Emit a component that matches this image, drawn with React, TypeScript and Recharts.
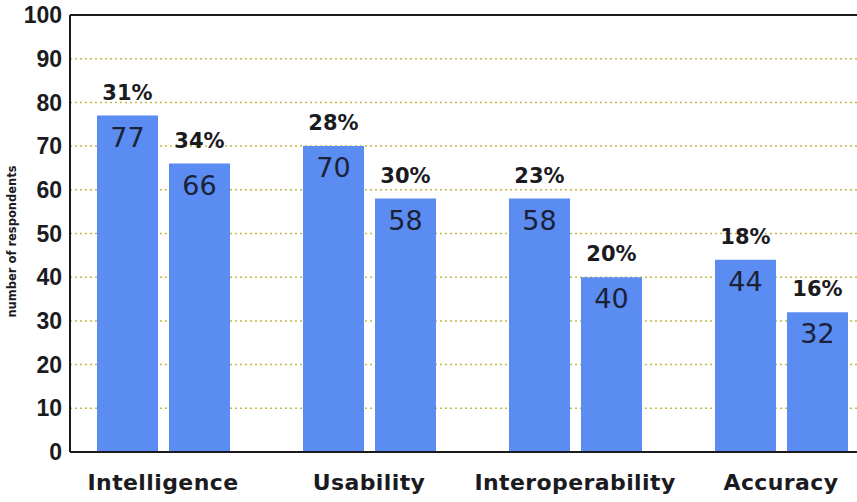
import React from "react";
import {
  BarChart,
  Bar,
  XAxis,
  YAxis,
  CartesianGrid,
  LabelList,
  ReferenceLine,
} from "recharts";

const categories = ["Intelligence", "Usability", "Interoperability", "Accuracy"];
const firstCounts = [77, 70, 58, 44];
const firstShares = ["31%", "28%", "23%", "18%"];
const secondCounts = [66, 58, 40, 32];
const secondShares = ["34%", "30%", "20%", "16%"];
const yTicks = [0, 10, 20, 30, 40, 50, 60, 70, 80, 90, 100];

const data = categories.map((name, i) => ({
  name,
  first: firstCounts[i],
  firstShare: firstShares[i],
  second: secondCounts[i],
  secondShare: secondShares[i],
}));

const barColor = "#5a8cf2";
const ink = "#1b1b1f";
const wideFont = "'DejaVu Sans', sans-serif";
const narrowFont = "'Liberation Sans', Arial, sans-serif";

const countStyle = { fill: "#1c2236", fontSize: 27, fontFamily: wideFont };
const shareStyle = { fill: ink, fontSize: 21, fontWeight: 700, fontFamily: wideFont };

export default function App() {
  return (
    <div
      style={{
        position: "absolute",
        left: 0,
        top: 0,
        width: 857,
        height: 502,
        overflow: "hidden",
        background: "#fff",
      }}
    >
      <BarChart
        width={884}
        height={502}
        data={data}
        margin={{ top: 15, right: 0, bottom: 14, left: 0 }}
        barCategoryGap="18%"
        barGap={11}
      >
        <CartesianGrid
          vertical={false}
          stroke="#c2b946"
          strokeDasharray="2 3"
          strokeWidth={1.5}
        />
        <XAxis
          dataKey="name"
          height={36}
          padding={{ left: -10, right: 0 }}
          tickLine={false}
          tickSize={0}
          tickMargin={22}
          axisLine={{ stroke: ink, strokeWidth: 2 }}
          tick={{
            fill: ink,
            fontSize: 22,
            fontWeight: 700,
            fontFamily: wideFont,
            letterSpacing: 0.4,
          }}
          interval={0}
        />
        <YAxis
          width={70}
          domain={[0, 100]}
          ticks={yTicks}
          interval={0}
          tickLine={false}
          tickMargin={2}
          axisLine={{ stroke: ink, strokeWidth: 2 }}
          tick={{ fill: ink, fontSize: 23, fontWeight: 700, fontFamily: narrowFont }}
          label={{
            value: "number of respondents",
            angle: -90,
            position: "insideLeft",
            offset: 12,
            dy: 8,
            style: {
              fill: ink,
              fontSize: 11.5,
              fontWeight: 700,
              fontFamily: wideFont,
              textAnchor: "middle",
            },
          }}
        />
        <ReferenceLine y={100} stroke={ink} strokeWidth={2} />
        <Bar dataKey="first" fill={barColor} barSize={61} isAnimationActive={false}>
          <LabelList dataKey="first" position="insideTop" offset={12} style={countStyle} />
          <LabelList dataKey="firstShare" position="top" offset={16} style={shareStyle} />
        </Bar>
        <Bar dataKey="second" fill={barColor} barSize={61} isAnimationActive={false}>
          <LabelList dataKey="second" position="insideTop" offset={12} style={countStyle} />
          <LabelList dataKey="secondShare" position="top" offset={16} style={shareStyle} />
        </Bar>
      </BarChart>
    </div>
  );
}
